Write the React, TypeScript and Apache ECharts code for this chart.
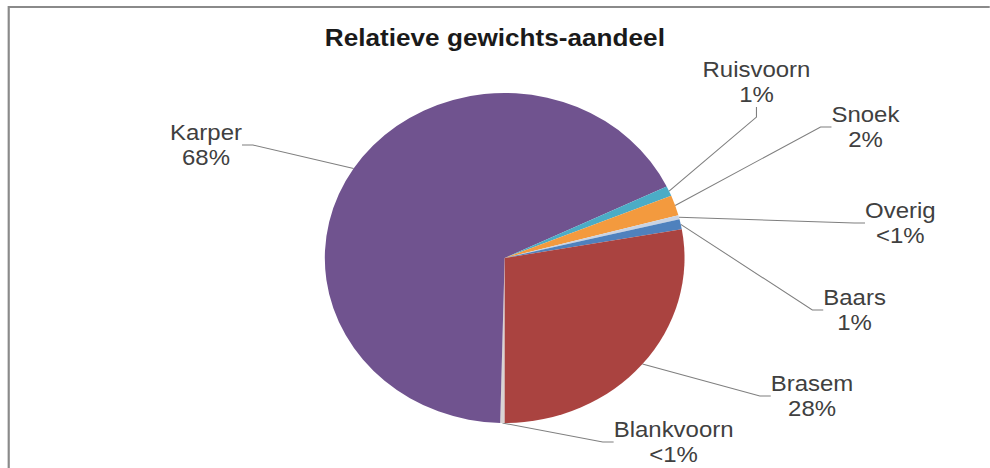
import React, { useEffect, useRef } from 'react';
import * as echarts from 'echarts';

const titleText = 'Relatieve gewichts-aandeel';
const categories = ['Blankvoorn', 'Karper', 'Ruisvoorn', 'Snoek', 'Overig', 'Baars', 'Brasem'];
const values = [0.4, 68, 1, 2, 0.4, 1, 28];
const colors = ['#d9d4d4', '#70538f', '#4bacc6', '#f39a3e', '#c9d3e3', '#4f81bd', '#aa4340'];
// label centres (local chart coordinates)
const labelPositions: [number, number][] = [
  [618, 442],
  [189, 145],
  [694, 82],
  [794, 127],
  [826, 223],
  [784, 310],
  [745, 396],
];

const SX = 1.09;
const W = 990;
const H = 468;

export default function App() {
  const ref = useRef<HTMLDivElement>(null);
  useEffect(() => {
    if (!ref.current) return;
    const chart = echarts.init(ref.current, null, { renderer: 'svg' });
    chart.setOption({
      animation: false,
      backgroundColor: '#ffffff',
      title: {
        text: titleText,
        left: 'center',
        top: 20,
        textStyle: { fontFamily: 'Arial, Liberation Sans, sans-serif', fontSize: 24, fontWeight: 'bold', color: '#1a1a1a' },
      },
      graphic: [
        {
          type: 'polyline',
          shape: { points: [[8, H], [8, 7], [W, 7]] },
          style: { stroke: '#8a8a8a', lineWidth: 2, fill: 'none' },
          silent: true,
        },
      ],
      series: [
        {
          type: 'pie',
          center: [463, 258],
          radius: 165,
          startAngle: -90,
          clockwise: true,
          data: categories.map((name, i) => ({
            name,
            value: values[i],
            itemStyle: { color: colors[i] },
          })),
          label: {
            show: true,
            formatter: (p: any) => `${p.name}\n${p.value < 1 ? '<1' : p.value}%`,
            fontFamily: 'Arial, Liberation Sans, sans-serif',
            fontSize: 22,
            lineHeight: 25,
            color: '#404040',
            align: 'center',
          },
          labelLine: {
            show: true,
            length: 20,
            length2: 10,
            lineStyle: { color: '#7f7f7f', width: 1 },
          },
          labelLayout: (params: any) => {
            const pos = labelPositions[params.dataIndex];
            return {
              x: pos[0],
              y: pos[1],
              align: 'center',
              verticalAlign: 'middle',
            };
          },
          emphasis: { disabled: true },
        },
      ],
    });
    return () => chart.dispose();
  }, []);
  return (
    <div style={{ position: 'fixed', left: 0, top: 0, width: W, height: H, overflow: 'hidden', background: '#fff' }}>
      <div
        ref={ref}
        style={{
          position: 'absolute',
          left: 0,
          top: 0,
          width: Math.round(W / SX),
          height: H,
          transform: `scaleX(${SX})`,
          transformOrigin: '0 0',
        }}
      />
    </div>
  );
}
